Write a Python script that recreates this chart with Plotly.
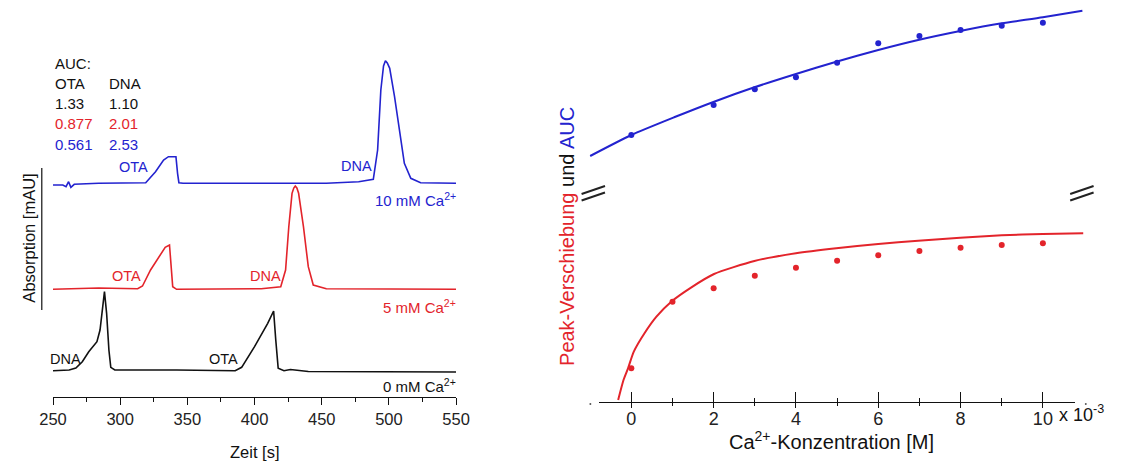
import plotly.graph_objects as go

# ---------------- data: left panel (electropherograms) ----------------
t_0mM = [250, 262, 267, 271.8, 276.6, 282.7, 285, 286.8, 288.3, 289.9, 291.6, 293, 296, 342,
         385.6, 390.4, 400, 409.8, 414.2, 415.8, 417.6, 421.9, 426.7, 440, 550]
a_0mM = [26.3, 27, 29, 35.3, 45.3, 55.3, 67, 90.3, 105.3, 83.7, 47, 29.7, 27, 27,
         26.3, 29.7, 50.3, 73.7, 86, 57, 28.7, 26.3, 27.5, 25.5, 25]

t_5mM = [250, 283.9, 313, 316.6, 322.6, 328.7, 333.5, 336.7, 337.7, 339.1, 342, 380.8, 405,
         419.5, 423.1, 425.5, 427.9, 429.2, 430.3, 431.5, 432.8, 436.4, 440, 443.7, 453.4, 550]
a_5mM = [107.7, 109, 108.3, 111, 127, 140.3, 149.7, 152, 130.3, 110.3, 107.7, 107.7, 108.3,
         110.3, 127, 170.3, 203.7, 209, 211, 209, 203.7, 170.3, 130.3, 112, 108.3, 107.7]

t_10mM = [250, 257.3, 259.7, 261.6, 263.3, 265.8, 283.9, 319, 326.3, 332.3, 335.9, 341.5, 342.7,
          343.7, 346.8, 453.4, 477.5, 488.4, 491.6, 494, 496, 497.4, 498.8, 500.6, 504.2, 507.8,
          511.5, 516.3, 523.6, 550]
a_10mM = [212, 212, 210.3, 215.3, 209.7, 212.7, 213.7, 214.3, 225.3, 237, 240.3, 240.3, 223.7,
          214.3, 213.7, 213.7, 215.3, 217.7, 247, 307, 331, 336.3, 334, 328.7, 300.3, 267,
          233.7, 218.7, 214.3, 213.7]

auc_ota = ["1.33", "0.877", "0.561"]
auc_dna = ["1.10", "2.01", "2.53"]
time_ticks = [250, 300, 350, 400, 450, 500, 550]

# ---------------- data: right panel ----------------
ca_shift = [0, 1, 2, 3, 4, 5, 6, 7, 8, 9, 10]
shift_pts = [33.7, 100.3, 113.7, 126.3, 134.3, 141.3, 146.7, 151, 154.3, 157, 158.7]
shift_fit_x = [-0.32, -0.19, -0.08, 0.06, 0.32, 0.61, 0.99, 1.46, 2.01, 2.99, 4.0, 4.98, 6.0,
               6.97, 7.99, 9.0, 10.0, 10.98]
shift_fit_y = [2, 22, 33.7, 50.3, 68.7, 85.3, 101, 114.7, 128, 141, 148.7, 153.7, 158,
               161.3, 164.3, 166.7, 168, 168.7]

ca_auc = [0, 2, 3, 4, 5, 6, 7, 8, 9, 10]
auc_pts = [267, 297, 312.7, 324.7, 339.3, 358.7, 366, 372, 376.3, 379.3]
auc_fit_x = [-1.0, 0, 1.04, 2.01, 2.99, 4.0, 4.98, 6.0, 6.97, 7.99, 9.0, 10.0, 10.96]
auc_fit_y = [246, 267, 284.7, 300.3, 314.7, 328, 340.3, 352, 362, 371, 378.7, 384.7, 391.3]
conc_ticks = [0, 2, 4, 6, 8, 10]

# ---------------- layout helpers ----------------
W, H = 1131, 463
MB = 56
PH = H - MB


def X(px):
    return px / W


def Y(py):
    return (PH - py) / PH


BLUE = "#2323cf"
RED = "#e3242b"
BLACK = "#111111"
FONT = "Liberation Sans, Arial, sans-serif"

# right panel geometry: zero of concentration axis and pixels per unit
R0, RU = 633.0, 42.2


def RX(u):
    return R0 + RU * u


fig = go.Figure()

lw = 1.6
fig.add_trace(go.Scatter(x=t_0mM, y=a_0mM, mode="lines", line=dict(color=BLACK, width=lw),
                         xaxis="x", yaxis="y", showlegend=False))
fig.add_trace(go.Scatter(x=t_5mM, y=a_5mM, mode="lines", line=dict(color=RED, width=lw),
                         xaxis="x", yaxis="y", showlegend=False))
fig.add_trace(go.Scatter(x=t_10mM, y=a_10mM, mode="lines", line=dict(color=BLUE, width=lw),
                         xaxis="x", yaxis="y", showlegend=False))

fig.add_trace(go.Scatter(x=shift_fit_x, y=shift_fit_y, mode="lines",
                         line=dict(color=RED, width=2, shape="spline", smoothing=0.6),
                         xaxis="x2", yaxis="y2", showlegend=False))
fig.add_trace(go.Scatter(x=ca_shift, y=shift_pts, mode="markers",
                         marker=dict(color=RED, size=6),
                         xaxis="x2", yaxis="y2", showlegend=False))
fig.add_trace(go.Scatter(x=auc_fit_x, y=auc_fit_y, mode="lines",
                         line=dict(color=BLUE, width=2, shape="spline", smoothing=0.6),
                         xaxis="x2", yaxis="y2", showlegend=False))
fig.add_trace(go.Scatter(x=ca_auc, y=auc_pts, mode="markers",
                         marker=dict(color=BLUE, size=6),
                         xaxis="x2", yaxis="y2", showlegend=False))
# empty traces so the decorative concentration axes get their own subplot
fig.add_trace(go.Scatter(x=[], y=[], xaxis="x3", yaxis="y2", showlegend=False))
fig.add_trace(go.Scatter(x=[], y=[], xaxis="x4", yaxis="y2", showlegend=False))

DL, DR = 585.0, 1112.0
AX_LO, AX_HI = -0.79, 10.79

fig.update_layout(
    width=W, height=H,
    margin=dict(l=0, r=0, t=0, b=MB),
    paper_bgcolor="white", plot_bgcolor="rgba(0,0,0,0)",
    font=dict(family=FONT, color=BLACK),
    xaxis=dict(domain=[X(40), X(453.3)], range=[250, 550], anchor="y",
               showline=True, linecolor=BLACK, linewidth=1.2, showgrid=False, zeroline=False,
               ticks="outside", ticklen=7, tickwidth=1.2, tickcolor=BLACK,
               tickvals=time_ticks, tickfont=dict(size=16.5, color="#222"),
               minor=dict(dtick=25, tick0=250, ticks="outside", ticklen=4, tickwidth=1,
                          tickcolor=BLACK, showgrid=False)),
    yaxis=dict(domain=[Y(397), 1], range=[0, 397], anchor="x", visible=False),
    xaxis2=dict(domain=[X(DL), X(DR)], range=[(DL - R0) / RU, (DR - R0) / RU],
                anchor="y2", visible=False),
    yaxis2=dict(domain=[Y(402), 1], range=[0, 402], anchor="x2", visible=False),
    xaxis3=dict(domain=[X(RX(AX_LO)), X(RX(AX_HI))], range=[AX_LO, AX_HI], anchor="y2",
                showline=True, linecolor=BLACK, linewidth=1.2, showgrid=False, zeroline=False,
                ticks="inside", ticklen=10, tickwidth=1.2, tickcolor=BLACK,
                tickvals=conc_ticks, tickfont=dict(size=18, color="#222"),
                minor=dict(dtick=1, tick0=0, ticks="inside", ticklen=4, tickwidth=1,
                           tickcolor=BLACK, showgrid=False)),
    xaxis4=dict(domain=[X(RX(AX_LO)), X(RX(AX_HI))], range=[AX_LO, AX_HI], anchor="y2",
                showline=False, showgrid=False, zeroline=False, showticklabels=False,
                ticks="outside", ticklen=5, tickwidth=1.2, tickcolor=BLACK,
                tickvals=conc_ticks,
                minor=dict(dtick=1, tick0=0, ticks="outside", ticklen=3, tickwidth=1,
                           tickcolor=BLACK, showgrid=False)),
)

ann = []


def txt(x, y, s, size=15, color=BLACK, xa="center", ya="middle", angle=0):
    ann.append(dict(x=X(x), y=Y(y), xref="paper", yref="paper", text=s, showarrow=False,
                    xanchor=xa, yanchor=ya, textangle=angle,
                    font=dict(size=size, color=color, family=FONT)))


# AUC table
txt(40, 63.3, "AUC:", xa="left")
txt(40, 83.3, "OTA", xa="left")
txt(95, 83.3, "DNA", xa="left")
row_y = [103.3, 124, 144]
row_c = [BLACK, RED, BLUE]
for o, d, yy, c in zip(auc_ota, auc_dna, row_y, row_c):
    txt(40, yy, o, color=c, xa="left")
    txt(95, yy, d, color=c, xa="left")

# peak labels
txt(122.5, 167.3, "OTA", 14.5, BLUE)
txt(351, 166, "DNA", 14.5, BLUE)
txt(455, 199, "10 mM Ca<sup>2+</sup>", 15, BLUE, xa="right")
txt(115, 276, "OTA", 14.5, RED)
txt(258, 276, "DNA", 14.5, RED)
txt(455, 306.7, "5 mM Ca<sup>2+</sup>", 15, RED, xa="right")
txt(52.5, 359, "DNA", 14.5, BLACK)
txt(215, 359, "OTA", 14.5, BLACK)
txt(455, 385, "0 mM Ca<sup>2+</sup>", 15, BLACK, xa="right")

# axis titles
txt(15, 238, "Absorption [mAU]", 16.5, BLACK, angle=-90)
txt(247, 452, "Zeit [s]", 16.5, BLACK)
txt(838, 441, "Ca<sup>2+</sup>-Konzentration [M]", 20, BLACK)
txt(1069, 413, "x 10<sup>-3</sup>", 18, BLACK, xa="left")
txt(567, 236, '<span style="color:%s">Peak-Verschiebung</span> und '
              '<span style="color:%s">AUC</span>' % (RED, BLUE), 20, BLACK, angle=-90)

fig.update_layout(annotations=ann)

shapes = []
# underline of the rotated y title
shapes.append(dict(type="line", xref="paper", yref="paper", x0=X(28.5), x1=X(28.5),
                   y0=Y(168), y1=Y(310), line=dict(color=BLACK, width=1.2)))
# axis-break marks
for cx in (594, 1095):
    for dy in (0, 6.5):
        shapes.append(dict(type="line", xref="paper", yref="paper",
                           x0=X(cx - 12), x1=X(cx + 12),
                           y0=Y(198 + dy - 4), y1=Y(190 + dy - 4),
                           line=dict(color="#222", width=2)))
# tiny end dots of the concentration axis
for cx in (591, 1099):
    shapes.append(dict(type="circle", xref="paper", yref="paper",
                       x0=X(cx - 1), x1=X(cx + 1), y0=Y(405), y1=Y(403),
                       fillcolor="#555", line=dict(width=0)))
fig.update_layout(shapes=shapes)

fig.write_html("out.html", config={"displayModeBar": False},
               post_script="document.body.style.margin='0';")
